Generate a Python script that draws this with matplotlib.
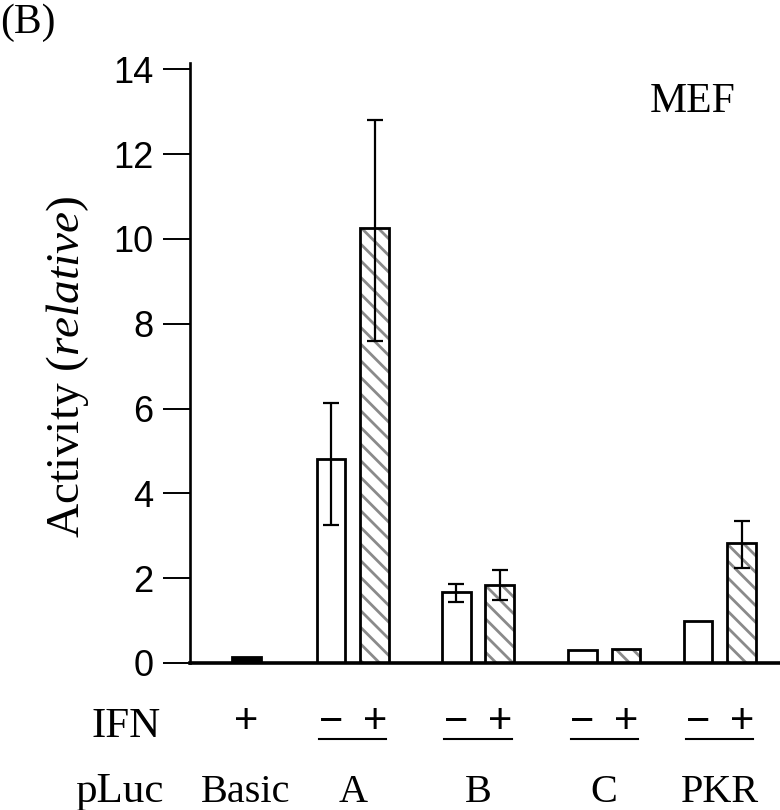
import numpy as np
import matplotlib
matplotlib.use('Agg')
import matplotlib.pyplot as plt
from matplotlib.transforms import blended_transform_factory

plt.rcParams['mathtext.fontset'] = 'custom'
plt.rcParams['mathtext.rm'] = 'Liberation Serif'
plt.rcParams['mathtext.it'] = 'Liberation Serif:italic'
plt.rcParams['hatch.linewidth'] = 2.0

# data
groups = ['Basic', 'A', 'B', 'C', 'PKR']
basic_value = 0.15
minus_values = [4.8, 1.67, 0.30, 1.0]       # A, B, C, PKR  (IFN -)
plus_values = [10.25, 1.84, 0.33, 2.82]     # A, B, C, PKR  (IFN +)
# error bar ends (low, high); None = no error bar
minus_err = [(3.25, 6.12), (1.44, 1.86), None, None]
plus_err = [(7.6, 12.8), (1.49, 2.19), None, (2.24, 3.35)]
yticks = [0, 2, 4, 6, 8, 10, 12, 14]

# layout
group_x = np.array([0.475, 1.38, 2.44, 3.51, 4.49])
half_gap = 0.185
bar_w = 0.245
serif = 'Liberation Serif'
sans = 'Liberation Sans'

fig = plt.figure(figsize=(7.8, 8.1), dpi=100)
ax = fig.add_axes([190 / 780, 1 - 663 / 810, 590 / 780, 600 / 810])

xm = group_x[1:] - half_gap
xp = group_x[1:] + half_gap

ax.bar(group_x[0], basic_value, bar_w, color='black', edgecolor='black', linewidth=2, zorder=2)
ax.bar(xm, minus_values, bar_w, color='white', edgecolor='black', linewidth=2, zorder=2)
# hatch first (grey), outline on top
ax.bar(xp, plus_values, bar_w, color='white', edgecolor='#8a8a8a', linewidth=0, hatch='\\\\', zorder=2)
ax.bar(xp, plus_values, bar_w, color='none', edgecolor='black', linewidth=2, zorder=3)

for xs, vals, errs in [(xm, minus_values, minus_err), (xp, plus_values, plus_err)]:
    for x, v, e in zip(xs, vals, errs):
        if e is None:
            continue
        ax.errorbar(x, v, yerr=[[v - e[0]], [e[1] - v]], fmt='none', ecolor='black',
                    elinewidth=1.6, capsize=5.5, capthick=1.6, zorder=4)

ax.set_xlim(0, 5)
ax.set_ylim(0, 14.15)
ax.set_yticks(yticks)
ax.set_xticks([])
ax.spines['top'].set_visible(False)
ax.spines['right'].set_visible(False)
ax.spines['left'].set_linewidth(1.9)
ax.spines['bottom'].set_linewidth(2.6)
ax.tick_params(axis='y', direction='out', length=19.5, width=1.4, pad=7, labelsize=26)
for lab in ax.get_yticklabels():
    lab.set_fontfamily(sans)

ax.text(0.925, 0.935, 'MEF', transform=ax.transAxes, ha='right', va='center',
        fontsize=30, family=serif)

fig.text(68 / 780, 1 - 367 / 810, r'Activity ($\mathit{relative}$)', rotation=90,
         ha='center', va='center', fontsize=34, family=serif)
fig.text(0.0, 1 - 23 / 810, '(B)', ha='left', va='center', fontsize=30, family=serif)

# IFN / pLuc rows under the axis
tr = blended_transform_factory(ax.transData, fig.transFigure)
y_sign = 1 - 722 / 810
y_line = 1 - 739 / 810
y_name = 1 - 792 / 810
fig.text(126 / 780, 1 - 727 / 810, 'IFN', ha='center', va='center', fontsize=31, family=serif)
fig.text(119 / 780, y_name, 'pLuc', ha='center', va='center', fontsize=31, family=serif)

ax.text(group_x[0], y_sign, '+', transform=tr, ha='center', va='center', fontsize=30, family=sans)
for x0, x1, g in zip(xm, xp, group_x[1:]):
    ax.text(x0, y_sign, '\u2212', transform=tr, ha='center', va='center', fontsize=30, family=sans)
    ax.text(x1, y_sign, '+', transform=tr, ha='center', va='center', fontsize=30, family=sans)
    ax.plot([x0 - 0.1, x1 + 0.1], [y_line, y_line], color='black', lw=1.5,
            transform=tr, clip_on=False)
for g, name in zip(group_x, groups):
    ax.text(g, y_name, name, transform=tr, ha='center', va='center', fontsize=29, family=serif)

fig.savefig('out.png', dpi=100)
